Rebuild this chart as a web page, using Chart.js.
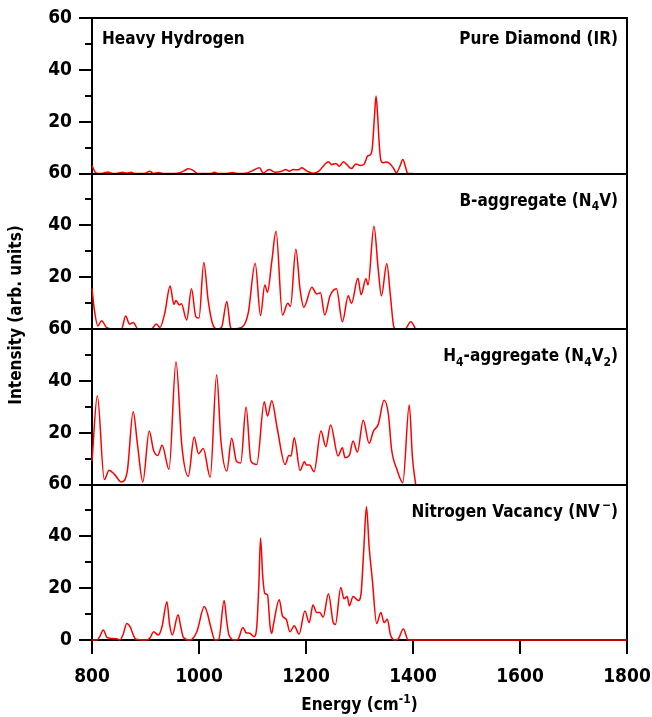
<!DOCTYPE html>
<html>
<head>
<meta charset="utf-8">
<script src="https://cdn.jsdelivr.net/npm/chart.js@4/dist/chart.umd.min.js"></script>
<style>
  html, body { margin: 0; padding: 0; background: #fff; }
  #wrap { width: 652px; height: 717px; }
</style>
</head>
<body>
<div id="wrap"><canvas id="spectra"></canvas></div>
<script>
// energies (cm-1) and intensities (arb. units)
const diamondEnergy = [800, 806, 812, 822, 830, 838, 848, 857, 865, 873, 880, 890, 900, 908, 915, 924, 932, 945, 960, 972, 980, 989, 997, 1010, 1022, 1029, 1036, 1050, 1063, 1072, 1090, 1101, 1113, 1120, 1131, 1142, 1155, 1162, 1169, 1176, 1186, 1192, 1202, 1214, 1224, 1235, 1242, 1248, 1256, 1262, 1270, 1276, 1285, 1293, 1301, 1309, 1315, 1321, 1324, 1328, 1331, 1334, 1337, 1340, 1344, 1349, 1356, 1363, 1369, 1375, 1381, 1386, 1390, 1400];
const diamondIntensity = [3.1, 0.5, 0, 0.2, 0.6, 0, 0.1, 0.5, 0.1, 0.5, 0, 0, 0.1, 0.9, 0, 0.4, 0, 0, 0.1, 1.0, 1.8, 1.2, 0, 0, 0, 0.5, 0, 0, 0.4, 0, 0.2, 1.2, 2.2, 0.2, 1.5, 0.5, 0.9, 1.5, 0.9, 1.5, 1.4, 2.2, 0.9, 0.1, 0.9, 3.5, 4.5, 3.4, 3.9, 2.8, 4.5, 3.5, 1.9, 3.7, 3.1, 3.7, 6.7, 7.4, 10, 22, 29.9, 22, 11, 5, 4.1, 4.4, 3.9, 2.2, 0.3, 2.5, 5.4, 2.5, 0, 0];

const bAggEnergy = [800, 804, 811, 818, 827, 837, 855, 863, 870, 877, 886, 911, 920, 927, 936, 946, 953, 957, 963, 967, 977, 986, 994, 1000, 1009, 1017, 1025, 1033, 1042, 1052, 1059, 1063, 1080, 1092, 1105, 1115, 1123, 1128, 1136, 1144, 1156, 1166, 1171, 1181, 1189, 1196, 1211, 1220, 1227, 1235, 1245, 1257, 1268, 1279, 1285, 1297, 1303, 1312, 1316, 1327, 1335, 1341, 1351, 1358, 1364, 1368, 1385, 1396, 1405];
const bAggIntensity = [15.7, 8, 1.2, 3.2, 0.6, 0, 0, 5, 1.9, 2.5, 0, 0, 1.9, 0.6, 6.1, 16.6, 9.5, 11, 9.3, 9.7, 3.5, 15.5, 4.8, 4.2, 25.7, 11.2, 2.2, 0, 0.6, 10.6, 0.6, 0, 0.6, 6.1, 25.4, 5.2, 17, 14.2, 26, 37.7, 5.4, 9.9, 8.7, 30.8, 15.1, 8.4, 16.1, 13.5, 14, 5.4, 12.8, 15.5, 2.8, 12.8, 9.9, 19.6, 13.2, 19.4, 17, 39.6, 23, 12.8, 25.2, 12.4, 0.9, 0, 0, 2.8, 0];

const h4Energy = [800, 810, 823, 832, 842, 855, 866, 877, 885, 895, 907, 915, 923, 931, 944, 957, 968, 980, 991, 999, 1008, 1021, 1033, 1041, 1052, 1061, 1070, 1078, 1088, 1097, 1108, 1122, 1128, 1136, 1146, 1161, 1168, 1172, 1178, 1189, 1197, 1201, 1207, 1215, 1228, 1237, 1246, 1260, 1268, 1273, 1281, 1288, 1296, 1307, 1318, 1326, 1335, 1346, 1354, 1360, 1370, 1381, 1393, 1399, 1405];
const h4Intensity = [9, 34.2, 1.9, 5.5, 3.9, 1, 5.2, 28.1, 15.5, 1, 20.6, 13.2, 11.2, 15.1, 5.8, 47.4, 14.8, 3.2, 18.3, 11.9, 13.9, 2.8, 42.3, 16.8, 5.2, 17.8, 9, 8.3, 29.9, 9, 7.7, 31.9, 26.4, 32.3, 21.9, 7.7, 11.2, 11, 18, 5.4, 8.8, 7.5, 7.5, 4.9, 20.6, 14.6, 23, 11, 14.2, 10.3, 11.2, 16.8, 12.5, 24.8, 15.9, 20.6, 23.2, 32.5, 27.1, 13.5, 5.8, 0.7, 30.7, 10.3, 0];

const nvEnergy = [800, 809, 815, 821, 828, 836, 846, 852, 858, 865, 872, 877, 882, 902, 909, 915, 924, 931, 940, 945, 950, 961, 966, 971, 983, 996, 1010, 1016, 1021, 1030, 1037, 1047, 1052, 1056, 1067, 1073, 1082, 1088, 1095, 1103, 1108, 1112, 1115, 1119, 1123, 1128, 1133, 1136, 1139, 1150, 1156, 1163, 1170, 1178, 1187, 1198, 1206, 1213, 1220, 1226, 1232, 1242, 1251, 1255, 1265, 1271, 1277, 1281, 1288, 1298, 1303, 1308, 1313, 1318, 1324, 1332, 1340, 1346, 1352, 1358, 1366, 1372, 1382, 1391, 1400, 1800];
const nvIntensity = [0, 0, 1.5, 3.9, 1, 0.6, 0.5, 0, 2, 6.4, 4.8, 2, 0.3, 0, 1, 3.2, 1.9, 5.2, 14.8, 6, 1.9, 9.7, 5, 1, 0, 3.2, 12.9, 10, 5.8, 0, 0.3, 15.2, 7, 1.9, 0, 0.3, 4.8, 2.8, 2.6, 1.3, 5.2, 22, 39.4, 25, 18, 17.4, 5, 2.6, 5.8, 15.5, 9.3, 8, 3.2, 5.5, 2.3, 11.2, 6.7, 13.5, 10.6, 10.6, 8.8, 17.8, 6.7, 6, 20.3, 15.9, 16.8, 13.2, 16.8, 15.2, 18.1, 35, 51.4, 36, 23.2, 6.4, 10.6, 6.7, 8, 1.9, 0, 0.3, 4.2, 0, 0, 0];

const xTicks = [800, 1000, 1200, 1400, 1600, 1800];
const yTicks = [0, 20, 40, 60];

const FONT = "'DejaVu Sans Condensed', 'DejaVu Sans', sans-serif";
const WEIGHT = "bold";
const PLOT_LEFT = 92;

// panel labels as runs of [text, shift]: -1 subscript, 1 superscript
const panelLabels = {
  yA: [["Pure Diamond (IR)", 0]],
  yB: [["B-aggregate (N", 0], ["4", -1], ["V)", 0]],
  yC: [["H", 0], ["4", -1], ["-aggregate (N", 0], ["4", -1], ["V", 0], ["2", -1], [")", 0]],
  yD: [["Nitrogen Vacancy (NV", 0], ["\u2009\u2212", 1], [")", 0]]
};

function runFont(s, size) {
  return WEIGHT + " " + (s ? Math.round(size * 0.68) : size) + "px " + FONT;
}

function richWidth(ctx, runs, size) {
  let w = 0;
  runs.forEach(([t, s]) => {
    ctx.font = runFont(s, size);
    w += ctx.measureText(t).width;
  });
  return w;
}

function drawRich(ctx, runs, x, y, size, align) {
  let cx = align === "right" ? x - richWidth(ctx, runs, size) : x;
  ctx.textBaseline = "middle";
  ctx.textAlign = "left";
  runs.forEach(([t, s]) => {
    ctx.font = runFont(s, size);
    const dy = s === -1 ? size * 0.32 : s === 1 ? -size * 0.38 : 0;
    ctx.fillText(t, cx, y + dy);
    cx += ctx.measureText(t).width;
  });
}

const frame = {
  id: "frame",
  beforeDatasetsDraw(chart) {
    const ctx = chart.ctx;
    const a = chart.chartArea;
    ctx.save();
    ctx.strokeStyle = "#000";
    ctx.lineWidth = 2;
    ctx.beginPath();
    ctx.moveTo(a.left, a.top);
    ctx.lineTo(a.left, a.bottom + 1);
    ctx.moveTo(a.left - 1, a.bottom);
    ctx.lineTo(a.right + 1, a.bottom);
    ctx.moveTo(a.right, a.bottom);
    ctx.lineTo(a.right, a.top);
    ctx.moveTo(a.left - 1, a.top);
    ctx.lineTo(a.right + 1, a.top);
    // y ticks (major every 20, minor every 10)
    ["yA", "yB", "yC", "yD"].forEach(id => {
      const sc = chart.scales[id];
      for (let v = 0; v <= 60; v += 10) {
        const py = Math.round(sc.getPixelForValue(v));
        const len = v % 20 === 0 ? 13 : 7;
        ctx.moveTo(a.left - len, py);
        ctx.lineTo(a.left, py);
      }
    });
    // x ticks
    const xs = chart.scales.x;
    xTicks.forEach(v => {
      const px = Math.round(xs.getPixelForValue(v));
      ctx.moveTo(px, a.bottom);
      ctx.lineTo(px, a.bottom + 14);
    });
    ctx.stroke();
    ctx.restore();
  },
  afterDatasetsDraw(chart) {
    const ctx = chart.ctx;
    const a = chart.chartArea;
    ctx.save();
    ctx.strokeStyle = "#000";
    ctx.lineWidth = 2;
    ctx.beginPath();
    ["yA", "yB", "yC"].forEach(id => {
      const py = Math.round(chart.scales[id].bottom);
      ctx.moveTo(a.left - 1, py);
      ctx.lineTo(a.right + 1, py);
    });
    ctx.stroke();

    ctx.fillStyle = "#000";
    const size = 17;
    drawRich(ctx, [["Heavy Hydrogen", 0]], a.left + 10, chart.scales.yA.top + 22, size, "left");
    Object.keys(panelLabels).forEach(id => {
      drawRich(ctx, panelLabels[id], a.right - 9, chart.scales[id].top + 22 + (id === "yA" ? 0 : 6), size, "right");
    });

    // axis titles
    const xt = [["Energy (cm", 0], ["-1", 1], [")", 0]];
    const w = richWidth(ctx, xt, size);
    drawRich(ctx, xt, (a.left + a.right) / 2 - w / 2, 706, size, "left");

    ctx.translate(17, 315);
    ctx.rotate(-Math.PI / 2);
    ctx.font = runFont(0, size);
    ctx.textAlign = "center";
    ctx.textBaseline = "middle";
    ctx.fillText("Intensity (arb. units)", 0, 0);
    ctx.restore();
  }
};

function series(xs, ys, axis) {
  return {
    data: xs.map((x, i) => ({ x: x, y: ys[i] })),
    yAxisID: axis,
    borderColor: "#ff0000",
    borderWidth: 1.5,
    pointRadius: 0,
    cubicInterpolationMode: "monotone",
    clip: false
  };
}

function noPad(s) {
  s.paddingTop = 0;
  s.paddingBottom = 0;
  s.paddingLeft = 0;
  s.paddingRight = 0;
}

function yScale(isBottom) {
  return {
    type: "linear",
    position: "left",
    stack: "panels",
    stackWeight: 1,
    min: 0,
    max: 60,
    afterFit: s => { s.width = PLOT_LEFT; noPad(s); },
    afterBuildTicks: s => { s.ticks = yTicks.map(v => ({ value: v })); },
    grid: { display: false, drawTicks: false },
    border: { display: false },
    ticks: {
      padding: 20,
      color: "#000",
      font: { family: FONT, size: 19, weight: WEIGHT },
      callback: v => (v === 0 && !isBottom) ? "" : String(v)
    }
  };
}

new Chart(document.getElementById("spectra"), {
  type: "line",
  data: {
    datasets: [
      series(diamondEnergy, diamondIntensity, "yA"),
      series(bAggEnergy, bAggIntensity, "yB"),
      series(h4Energy, h4Intensity, "yC"),
      series(nvEnergy, nvIntensity, "yD")
    ]
  },
  options: {
    responsive: true,
    maintainAspectRatio: false,
    animation: false,
    layout: { padding: { top: 18, right: 25, left: 0, bottom: 0 } },
    plugins: { legend: { display: false }, tooltip: { enabled: false } },
    scales: {
      x: {
        type: "linear",
        min: 800,
        max: 1800,
        afterFit: s => { s.height = 77; noPad(s); },
        afterBuildTicks: s => { s.ticks = xTicks.map(v => ({ value: v })); },
        grid: { display: false, drawTicks: false },
        border: { display: false },
        ticks: {
          padding: 26,
          maxRotation: 0,
          color: "#000",
          font: { family: FONT, size: 19, weight: WEIGHT },
          callback: v => String(v)
        }
      },
      // listed bottom panel first: the layout stacks left axes in reverse order
      yD: yScale(true),
      yC: yScale(false),
      yB: yScale(false),
      yA: yScale(false)
    }
  },
  plugins: [frame]
});
</script>
</body>
</html>
